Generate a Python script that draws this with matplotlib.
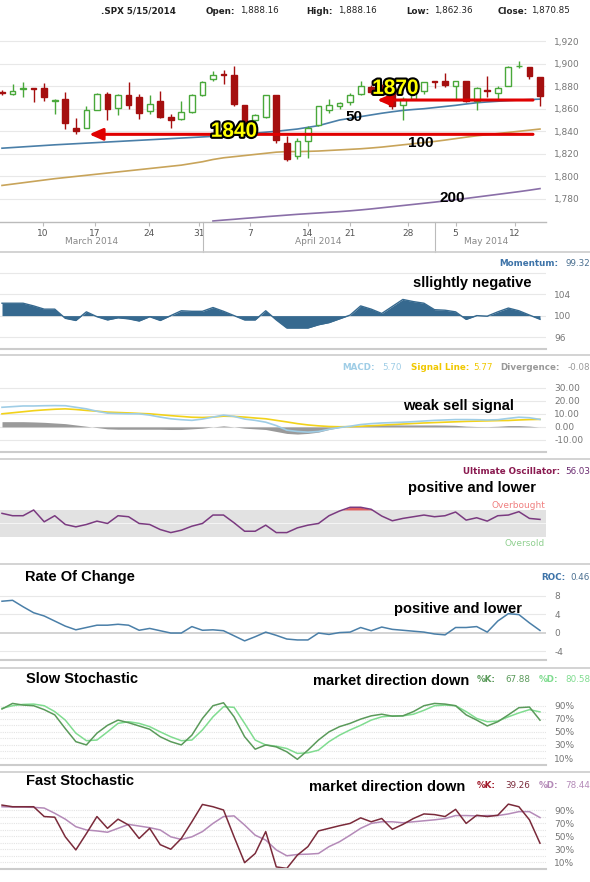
import numpy as np
import matplotlib
matplotlib.use("Agg")
import matplotlib.pyplot as plt
import matplotlib.patheffects as pe

W, H = 590, 882
N = 52
idx = np.arange(N)

opens = [1874.5,1873,1877.5,1878,1878,1867,1869,1843,1843,1859,1873,1861,1872,1870,1858,1867,1853,1851,1857,1872,
         1886,1891,1890,1863,1850,1853,1872,1830,1818,1831,1846,1859,1862,1866,1873,1879,1880,1875,1863,1869,
         1876,1884.5,1885,1880,1885,1867,1877,1874,1880,1897.5,1897,1888]
closes = [1874,1876,1878,1877.5,1870,1868,1847,1840,1859,1873,1860,1872,1863,1856,1864,1853,1850,1857,1872,1884,
          1890,1890,1864,1845,1854,1872,1832,1815,1831,1843,1862,1863,1865,1872,1880,1875,1877,1862,1869,1880,
          1884,1884,1881,1885,1867,1878,1876,1878,1897,1898,1889,1870.85]
highs = [1877,1882,1884,1878,1883,1869,1875,1852,1862,1874,1875,1873,1884,1873,1872,1876,1855,1867,1873,1885,
         1893,1894,1898,1863,1855,1872,1872,1836,1834,1845,1862,1869,1866,1874,1885,1881,1882,1876,1870,1882,
         1884,1885,1892,1885,1885,1879,1889,1880,1898,1902,1897,1888]
lows = [1872,1872,1870,1866,1867,1855,1842,1838,1843,1859,1850,1854,1860,1851,1855,1852,1843,1850,1856,1871,
        1885,1882,1862,1843,1843,1852,1830,1814,1815,1816,1845,1856,1860,1863,1872,1873,1874,1860,1850,1869,
        1873,1878,1879,1868,1866,1859,1870,1868,1880,1896,1886,1862]
ma50 = [1825,1825.6,1826.2,1826.8,1827.4,1828,1828.5,1829,1829.5,1830,1830.5,1831,1831.5,1832,1832.5,1833,1833.5,1834,1834.5,1835,
        1835.5,1836,1836.8,1837.6,1838.4,1839.2,1840,1841,1842,1843.5,1845,1847.5,1850,1851.5,1853,1854.5,1856,1857.3,1858.5,1859.3,
        1860,1861,1862,1863,1864.2,1865.3,1866,1866.6,1867.2,1867.7,1868.1,1868.5]
ma100 = [1792,1793.2,1794.4,1795.6,1796.8,1798,1799,1800,1801,1802,1803,1804,1805,1806,1807,1808,1809,1810,1811.5,1813,
         1815,1816.5,1817.5,1818.5,1819.5,1820.5,1821.5,1822,1822,1822.2,1822.5,1823,1823.5,1824,1824.5,1825.2,1826,1827,1828,1829,
         1830,1831,1832.2,1833.5,1834.8,1836,1837,1838,1839,1840,1841,1842]
ma200 = [np.nan]*20 + [1760.5,1761.3,1762,1762.8,1763.5,1764.3,1765,1765.7,1766.4,1767,1767.6,1768.2,1768.8,1769.5,1770.3,1771.2,
         1772.2,1773.2,1774.2,1775.2,1776.2,1777.2,1778.3,1779.4,1780.5,1781.7,1782.9,1784.1,1785.3,1786.5,1787.8,1789.2]
momentum = [102.3,102.3,102.3,101.8,101.2,101.2,99.5,99.1,100.7,99.8,99.2,99.6,99.4,99.0,99.8,99.1,100.0,100.9,100.8,100.8,
            101.5,100.8,100.0,99.2,99.2,100.9,99.2,97.7,97.7,97.7,98.3,98.7,99.4,100.1,101.8,101.2,100.4,101.7,103.0,102.6,
            102.3,101.1,101.0,100.7,99.3,100.0,99.9,100.7,101.4,100.9,100.1,99.32]
macd = [15,15.5,16,16,16.2,16.3,16.2,15,13.8,12,10.5,10.2,10,10,9,7.5,6.2,5.5,5,6,7.5,9,8,6,5,3.6,1,-2.5,-3.5,-4,
        -3.5,-1.8,-0.5,0.5,1.8,2.5,3,3.3,3.6,4,4.5,5,5.3,5.6,5.6,5.5,5.3,5.5,6.5,7.4,7,5.7]
signal = [10,10.8,11.6,12.4,13,13.5,13.8,13.3,12.6,12,11.3,11,10.7,10.3,10,9.3,8.6,8,7.4,7.2,7.5,8.2,8,7.5,6.8,6.2,5,3.8,2.5,1.5,
          0.8,0.3,0.1,0.2,0.5,0.9,1.3,1.8,2.2,2.6,3,3.3,3.6,3.9,4.2,4.4,4.6,4.8,4.9,5.3,5.6,5.77]
divergence = [4,4,4,3.8,3.5,3,2.5,1.5,0.5,-0.5,-1.5,-1.8,-1.8,-1.8,-1.8,-1.8,-2,-2,-1.5,-1,0,0.8,0,-1,-1.5,-2,-3.5,-5,-5.5,-5,
              -4,-2,-0.5,0.3,1,1.5,1.6,1.6,1.5,1.5,1.5,1.5,1.4,1.2,0.6,0.3,0.2,0.5,1,1,0.6,-0.08]
uo = [65,61.5,61.5,70,52.5,61.5,48.5,45,48.5,53.5,50,61.5,60,50,48.5,41,36.5,40,46,50,62.5,62.5,51,38.5,38.5,47.5,36.5,36.5,43.5,47.5,
      50,61.5,68.5,74,74,71,61,54,57.5,60,62.5,60,61.5,67,55,58.5,53.5,61.5,62.5,67.5,57.5,56.03]
roc = [6.8,7.0,5.6,4.3,3.6,2.5,1.4,0.6,1.1,1.6,1.6,1.8,1.6,0.5,0.9,0.4,-0.1,-0.1,1.3,0.5,0.6,0.4,-0.7,-1.8,-0.9,0.1,-0.6,-1.4,-1.6,-1.6,
       -0.1,-0.4,0.0,0.1,1.1,0.4,1.2,0.7,0.5,0.3,0.1,-0.3,-0.5,1.1,1.1,1.3,0.1,2.5,4.1,3.9,2.1,0.46]
slow_k = [85,93.5,91,90,84,76,55,35,30,48,60,68,64,59,54,42.5,35,30,45,70.5,90,94.5,73,42.5,23.5,30,27,19.5,8,22,
          37.5,50,58,63,69.5,74.5,77,74,74.5,81,90,93.5,92.5,90,76,68,59,65.5,76,87,88,67.88]
slow_d = [86,90,92,92.5,90,81,68,48,36.5,37.5,50,63,65.5,63,58,50,42.5,36.5,37.5,53,73,88.5,87.5,63,37.5,30,28,24.5,17,18,
          22,35,45,53,60,68,73,74.5,74.5,77,83,90,91,90,81,70.5,65.5,66.5,73,79,84,80.58]
fast_k = [97.5,95,95,95,80,79,49,29,54,80,62,76,67,46.5,62,37,30,46.5,72,98.5,95,90,49,9.5,23.5,57,3,0.7,21,34,
          58,62,66,69.5,78,72,77,60.5,68,77,84,83,80,91,69.5,82,80,82,99,95,75,39.26]
fast_d = [95,94.5,94.5,94,93,85,76,64.5,59.5,58,56,62,68,65.5,63,59.5,49,45,49,57,69.5,80,81,67,51.5,44,29,20,22,22.5,
          23.5,34,41.5,51.5,62,69.5,72,72,70.5,72,73.5,75,77,81.5,81.5,81,81.5,81.5,84,87.5,87.5,78.44]
day_labels = ["10","17","24","31","7","14","21","28","5","12"]
day_pos = [3.9,8.8,13.9,18.7,23.5,29,33,38.5,43,48.6]
months = ["March 2014","April 2014","May 2014"]
month_pos = [8.5,30,45.9]
month_sep = [19.1,41]

BOLDF = ['Liberation Sans', 'DejaVu Sans']
SMALL = 6.3
GRID = '#e8e8e8'
TICKC = '#777777'

fig = plt.figure(figsize=(W/100, H/100), dpi=100)
fig.patch.set_facecolor('white')
XR = 546
XL = (-0.19, 51.57)

def add(top, bottom):
    ax = fig.add_axes([0, 1-bottom/H, XR/W, (bottom-top)/H])
    ax.set_xlim(*XL)
    for s in ['left', 'right', 'top']:
        ax.spines[s].set_visible(False)
    ax.spines['bottom'].set_color('#cccccc')
    ax.spines['bottom'].set_linewidth(1.5)
    ax.set_xticks([])
    ax.yaxis.tick_right()
    ax.tick_params(axis='y', length=0, labelsize=6.5, labelcolor=TICKC, pad=6)
    ax.set_facecolor('none')
    return ax

def ftxt(x, y, s, **kw):
    fig.text(x/W, 1-y/H, s, va='center', **kw)

def note(x, y, s, size=10.5, ha='center'):
    ftxt(x, y, s, family=BOLDF, fontweight='bold', fontsize=size, ha=ha, color='black')

# header
hdr = [(101, ".SPX 5/15/2014", 'left', True),
       (235, "Open:", 'right', True), (240, "1,888.16", 'left', False),
       (333, "High:", 'right', True), (338, "1,888.16", 'left', False),
       (430, "Low:", 'right', True), (434, "1,862.36", 'left', False),
       (528, "Close:", 'right', True), (531, "1,870.85", 'left', False)]
for x, s, ha, b in hdr:
    ftxt(x, 11, s, fontsize=SMALL, fontweight='bold' if b else 'normal', color='#222222', ha=ha)

# price panel
ax = add(25, 222)
ax.set_ylim(1759.6, 1934.2)
yt = [1780, 1800, 1820, 1840, 1860, 1880, 1900, 1920]
ax.set_yticks(yt)
ax.set_yticklabels([f"{v:,}" for v in yt])
for v in yt:
    ax.axhline(v, color=GRID, lw=0.8, zorder=0)
ax.plot(idx, ma100, color='#c8a45a', lw=1.2, zorder=1)
ax.plot(idx, ma200, color='#8a6fa8', lw=1.2, zorder=1)
ax.plot(idx, ma50, color='#4a7fa8', lw=1.2, zorder=1)
for i in range(N):
    o, c, h, l = opens[i], closes[i], highs[i], lows[i]
    up = c >= o
    col = '#49a83a' if up else '#a50f0f'
    ax.vlines(i, l, h, color=col, lw=1, zorder=2)
    bot, ht = min(o, c), max(abs(c-o), 0.6)
    ax.add_patch(plt.Rectangle((i-0.27, bot), 0.54, ht, facecolor='white' if up else col,
                               edgecolor=col, lw=1, zorder=3))
ax.annotate('', xy=(8.0, 1837.3), xytext=(50.6, 1837.3),
            arrowprops=dict(arrowstyle='-|>,head_length=0.8,head_width=0.35', color='#e00000', lw=2.2), zorder=5)
ax.annotate('', xy=(35.3, 1867.7), xytext=(50.6, 1867.7),
            arrowprops=dict(arrowstyle='-|>,head_length=0.8,head_width=0.35', color='#e00000', lw=2.2), zorder=5)
eff = [pe.withStroke(linewidth=3, foreground='black')]
ax.text(22, 1840, "1840", family=BOLDF, fontweight='bold', fontsize=15, color='#ffff00',
        ha='center', va='center', path_effects=eff, zorder=6)
ax.text(37.3, 1878, "1870", family=BOLDF, fontweight='bold', fontsize=15, color='#ffff00',
        ha='center', va='center', path_effects=eff, zorder=6)
for x, y, s in [(33.4, 1853, "50"), (39.7, 1830, "100"), (42.7, 1781, "200")]:
    ax.text(x, y, s, family=BOLDF, fontweight='bold', fontsize=11, color='black', ha='center', va='center', zorder=6)
ax.spines['bottom'].set_color('#bbbbbb')
ax.spines['bottom'].set_linewidth(1)
ax.set_xticks(day_pos)
ax.set_xticklabels(day_labels)
ax.tick_params(axis='x', length=3, color='#bbbbbb', labelsize=6.5, labelcolor='#555555', pad=2)
for x, s in zip(month_pos, months):
    ax.text(x, -0.1, s, transform=ax.get_xaxis_transform(), ha='center', va='center', fontsize=6.5, color='#888888')
for x in month_sep:
    ax.plot([x, x], [0, -0.15], transform=ax.get_xaxis_transform(), color='#bbbbbb', lw=0.8, clip_on=False)

# dividers
for y in [252, 355, 459, 564, 668, 772]:
    fig.add_artist(plt.Line2D([0, 1], [1-y/H, 1-y/H], color='#cccccc', lw=1.2))

# momentum
ax = add(258, 349)
ax.set_ylim(93.8, 110.7)
ax.set_yticks([96, 100, 104])
for v in [96, 100, 104, 108]:
    ax.axhline(v, color=GRID, lw=0.8, zorder=0)
ax.fill_between(idx, momentum, 100, color='#36698f', lw=0)
ax.plot(idx, momentum, color='#36698f', lw=1)
ftxt(558, 264, "Momentum:", fontsize=SMALL, fontweight='bold', color='#3d73a8', ha='right')
ftxt(590, 264, "99.32", fontsize=SMALL, color='#4a6f90', ha='right')
note(472, 283, "sllightly negative")

# MACD
ax = add(378, 452)
ax.set_ylim(-19.2, 37.4)
mt = [-10, 0, 10, 20, 30]
ax.set_yticks(mt)
ax.set_yticklabels([f"{v:.2f}" for v in mt])
for v in mt:
    ax.axhline(v, color=GRID, lw=0.8, zorder=0)
ax.fill_between(idx, divergence, 0, color='#9a9a9a', lw=0)
ax.plot(idx, signal, color='#f2d21a', lw=1.2)
ax.plot(idx, macd, color='#9fcde6', lw=1.2)
ftxt(375, 368, "MACD:", fontsize=SMALL, fontweight='bold', color='#9fcde6', ha='right')
ftxt(402, 368, "5.70", fontsize=SMALL, color='#9fcde6', ha='right')
ftxt(469, 368, "Signal Line:", fontsize=SMALL, fontweight='bold', color='#f0c800', ha='right')
ftxt(493, 368, "5.77", fontsize=SMALL, color='#f0c800', ha='right')
ftxt(560, 368, "Divergence:", fontsize=SMALL, fontweight='bold', color='#999999', ha='right')
ftxt(590, 368, "-0.08", fontsize=SMALL, color='#999999', ha='right')
note(458, 406, "weak sell signal")

# Ultimate oscillator
ax = add(495, 550)
ax.set_ylim(10.7, 92.2)
ax.set_yticks([])
ax.spines['bottom'].set_visible(False)
ax.axhspan(30, 70, color='#e2e2e2', lw=0, zorder=0)
ax.axhline(50, color='#f4f4f4', lw=0.8, zorder=0)
uo_a = np.array(uo)
ax.fill_between(idx, uo_a, 70, where=uo_a > 70, color='#e06060', lw=0, interpolate=True)
ax.plot(idx, uo, color='#7a3a80', lw=1.1)
ftxt(560, 472, "Ultimate Oscillator:", fontsize=SMALL, fontweight='bold', color='#8a1a50', ha='right')
ftxt(590, 472, "56.03", fontsize=SMALL, color='#6a2a70', ha='right')
note(472, 488, "positive and lower")
ftxt(545, 505, "Overbought", fontsize=6.5, color='#f08080', ha='right')
ftxt(545, 543, "Oversold", fontsize=6.5, color='#90d090', ha='right')

# ROC
ax = add(588, 660)
ax.set_ylim(-5.95, 9.67)
ax.set_yticks([-4, 0, 4, 8])
ax.set_yticklabels(["-4", "0", "4", "8"])
for v in [-4, 4, 8]:
    ax.axhline(v, color=GRID, lw=0.8, zorder=0)
ax.axhline(0, color='#cccccc', lw=1.2, zorder=0)
ax.plot(idx, roc, color='#4a7fa8', lw=1.1)
note(25, 577, "Rate Of Change", ha='left')
ftxt(565, 577, "ROC:", fontsize=SMALL, fontweight='bold', color='#3d73a8', ha='right')
ftxt(590, 577, "0.46", fontsize=SMALL, color='#4a6f90', ha='right')
note(458, 609, "positive and lower")

def stoch(top, bottom, k, d, kc, dc, ylim):
    ax = add(top, bottom)
    ax.set_ylim(*ylim)
    ax.set_yticks([10, 30, 50, 70, 90])
    ax.set_yticklabels(["10%", "30%", "50%", "70%", "90%"])
    for v in range(10, 100, 10):
        ax.axhline(v, color='#e4e4e4', lw=0.8, ls=(0, (1, 1)), zorder=0)
    ax.plot(idx, d, color=dc, lw=1.1)
    ax.plot(idx, k, color=kc, lw=1.1)
    return ax

stoch(695, 765, slow_k, slow_d, '#5a9a5a', '#80dc90', (-0.7, 106.4))
note(26, 679, "Slow Stochastic", ha='left')
note(391, 681, "market direction down")
ftxt(496, 680, "%K:", fontsize=SMALL, fontweight='bold', color='#5a9a5a', ha='right')
ftxt(530, 680, "67.88", fontsize=SMALL, color='#5a9a5a', ha='right')
ftxt(558, 680, "%D:", fontsize=SMALL, fontweight='bold', color='#80dc90', ha='right')
ftxt(590, 680, "80.58", fontsize=SMALL, color='#80dc90', ha='right')

stoch(800, 869, fast_k, fast_d, '#7a2a3a', '#b48ab8', (-0.2, 105.3))
note(26, 781, "Fast Stochastic", ha='left')
note(387, 787, "market direction down")
ftxt(496, 785, "%K:", fontsize=SMALL, fontweight='bold', color='#a01a2a', ha='right')
ftxt(530, 785, "39.26", fontsize=SMALL, color='#7a2a3a', ha='right')
ftxt(558, 785, "%D:", fontsize=SMALL, fontweight='bold', color='#b48ab8', ha='right')
ftxt(590, 785, "78.44", fontsize=SMALL, color='#b48ab8', ha='right')

fig.savefig("out.png", dpi=100, facecolor='white')
